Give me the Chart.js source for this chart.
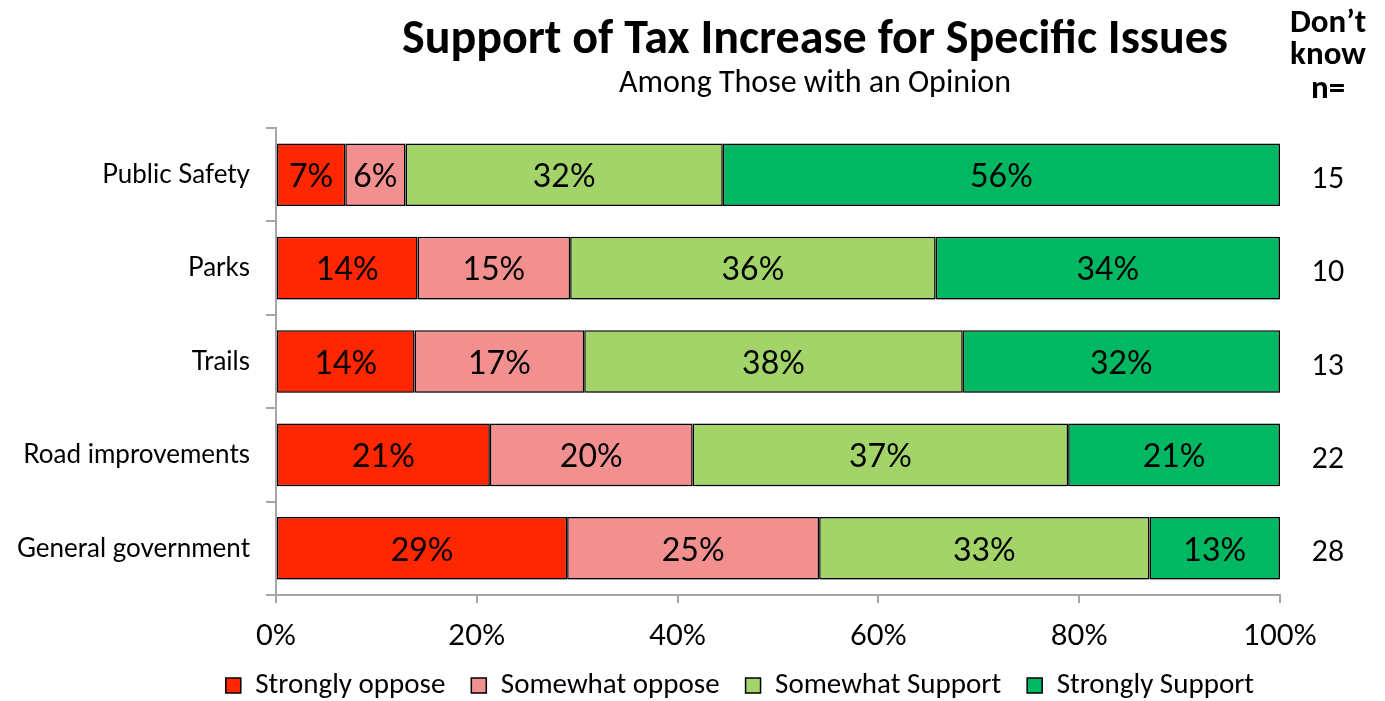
<!DOCTYPE html>
<html>
<head>
<meta charset="utf-8">
<title>Support of Tax Increase for Specific Issues</title>
<script src="https://cdn.jsdelivr.net/npm/chart.js@4/dist/chart.umd.min.js"></script>
<style>
    html, body { margin: 0; padding: 0; background: #fff; }
</style>
</head>
<body>
<canvas id="taxChart" width="1385" height="701"></canvas>
<script>
// categories and values (segments sum to 100)
const categories = ['Public Safety', 'Parks', 'Trails', 'Road improvements', 'General government'];
const stronglyOppose = [6.9, 14.1, 13.8, 21.3, 29.0];
const somewhatOppose = [6.0, 15.2, 16.9, 20.2, 25.1];
const somewhatSupport = [31.6, 36.4, 37.7, 37.4, 32.9];
const stronglySupport = [55.5, 34.3, 31.6, 21.1, 13.0];
const dontKnowN = [15, 10, 13, 22, 28];

const seriesNames = ['Strongly oppose', 'Somewhat oppose', 'Somewhat Support', 'Strongly Support'];
const seriesColors = ['#ff2600', '#f28f8f', '#a3d469', '#00b862'];

const narrowFont = 'Carlito, "Open Sans", sans-serif';
const mainFont = 'Lato, "Open Sans", sans-serif';
const axisGray = '#a6a6a6';

function makeDataset(i, values) {
    return {
        label: seriesNames[i],
        data: values,
        backgroundColor: seriesColors[i],
        borderColor: '#000',
        borderWidth: 1.5,
        borderSkipped: false,
        barPercentage: 0.67,
        categoryPercentage: 1
    };
}

// soft drop shadow under the bars, like the original
const barShadow = {
    id: 'barShadow',
    beforeDatasetDraw(chart) {
        const ctx = chart.ctx;
        ctx.save();
        ctx.shadowColor = 'rgba(0,0,0,0.35)';
        ctx.shadowBlur = 5;
        ctx.shadowOffsetX = 1;
        ctx.shadowOffsetY = 3;
    },
    afterDatasetDraw(chart) {
        chart.ctx.restore();
    }
};

// percent labels inside every segment
const segmentLabels = {
    id: 'segmentLabels',
    afterDatasetsDraw(chart) {
        const ctx = chart.ctx;
        ctx.save();
        ctx.font = '32px ' + mainFont;
        ctx.fillStyle = '#000';
        ctx.textAlign = 'center';
        ctx.textBaseline = 'middle';
        chart.data.datasets.forEach((ds, i) => {
            chart.getDatasetMeta(i).data.forEach((bar, j) => {
                const x = (bar.x + bar.base) / 2;
                ctx.fillText(Math.round(ds.data[j]) + '%', x, bar.y + 2);
            });
        });
        ctx.restore();
    }
};

// titles and the "Don't know n=" column
const headerText = {
    id: 'headerText',
    afterDraw(chart) {
        const ctx = chart.ctx;
        const yScale = chart.scales.y;
        ctx.save();
        ctx.fillStyle = '#000';
        ctx.textAlign = 'center';
        ctx.textBaseline = 'alphabetic';

        ctx.font = 'bold 48px ' + narrowFont;
        ctx.fillText('Support of Tax Increase for Specific Issues', 815, 53, 830);
        ctx.font = '32px ' + narrowFont;
        ctx.fillText('Among Those with an Opinion', 815, 92, 392);

        ctx.font = 'bold 33px ' + narrowFont;
        ctx.fillText('Don\u2019t', 1328, 32, 78);
        ctx.fillText('know', 1328, 64, 78);
        ctx.fillText('n=', 1328, 98, 42);

        ctx.font = '28px ' + mainFont;
        ctx.textBaseline = 'middle';
        dontKnowN.forEach((n, i) => {
            ctx.fillText(String(n), 1328, yScale.getPixelForValue(i) + 4);
        });
        ctx.restore();
    }
};

const ctx = document.getElementById('taxChart').getContext('2d');
const taxChart = new Chart(ctx, {
    type: 'bar',
    data: {
        labels: categories,
        datasets: [
            makeDataset(0, stronglyOppose),
            makeDataset(1, somewhatOppose),
            makeDataset(2, somewhatSupport),
            makeDataset(3, stronglySupport)
        ]
    },
    options: {
        indexAxis: 'y',
        responsive: false,
        animation: false,
        layout: {
            padding: { top: 128, right: 105, bottom: -9, left: 0 }
        },
        scales: {
            x: {
                stacked: true,
                min: 0,
                max: 100,
                afterFit(scale) { scale.height = 50; },
                ticks: {
                    stepSize: 20,
                    callback: v => v + '%',
                    color: '#000',
                    font: { family: mainFont, size: 29 },
                    padding: 15
                },
                grid: {
                    drawOnChartArea: false,
                    tickLength: 8,
                    color: axisGray,
                    lineWidth: 2
                },
                border: { color: axisGray, width: 2 }
            },
            y: {
                stacked: true,
                afterFit(scale) { scale.width = 276; },
                ticks: {
                    color: '#000',
                    font: { family: mainFont, size: 26 },
                    padding: 16
                },
                grid: {
                    offset: true,
                    drawOnChartArea: false,
                    tickLength: 10,
                    color: axisGray,
                    lineWidth: 2
                },
                border: { color: axisGray, width: 2 }
            }
        },
        plugins: {
            legend: {
                position: 'bottom',
                align: 'end',
                labels: {
                    boxWidth: 15,
                    boxHeight: 15,
                    padding: 26,
                    color: '#000',
                    font: { family: narrowFont, size: 29 }
                }
            },
            tooltip: { enabled: false }
        }
    },
    plugins: [barShadow, segmentLabels, headerText]
});
</script>
</body>
</html>
